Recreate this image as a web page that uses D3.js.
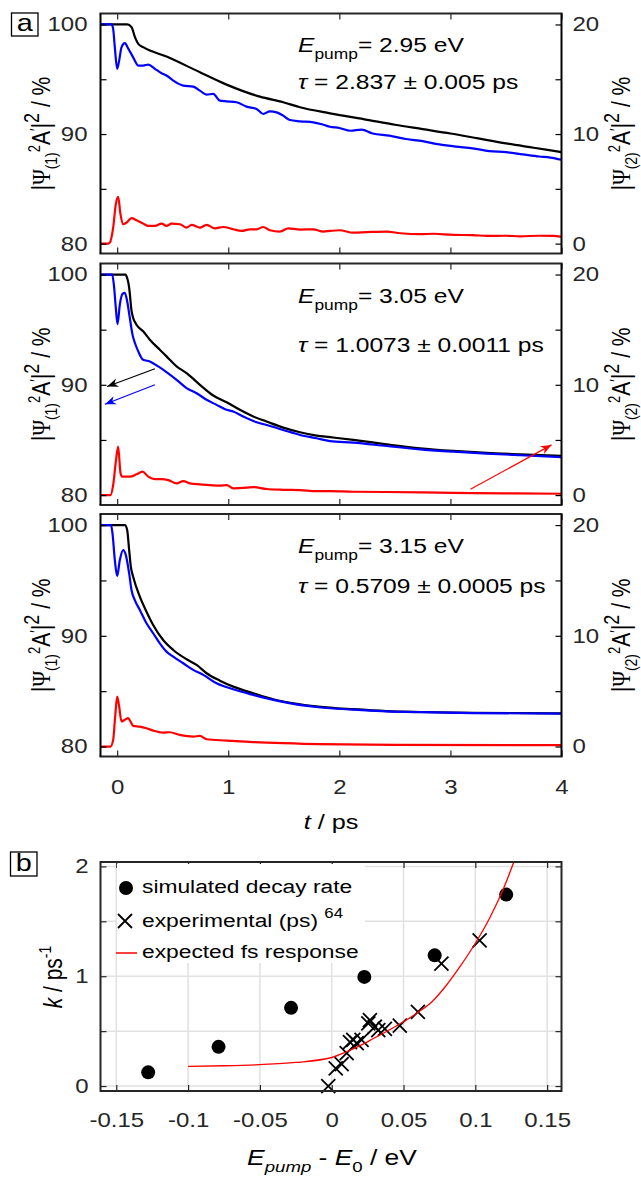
<!DOCTYPE html>
<html>
<head>
<meta charset="utf-8">
<script src="https://cdn.jsdelivr.net/npm/d3@7"></script>
<style>
body { margin: 0; background: #fff; }
svg { display: block; }
text { white-space: pre; }
</style>
</head>
<body>
<div id="chart-area"></div>
<script>

// ---- data ----
// panel a: [t / ps, population / %]; black + blue on left axis, red on right axis
var black295 = [[-0.15,100],[0.09,100],[0.13,99.75],[0.16,98.84],[0.19,98.23],[0.234,97.93],[0.444,97.07],[0.745,95.64],[0.985,94.51],[1.285,93.41],[1.495,92.9],[1.646,92.44],[1.916,91.89],[2.25,91.3],[2.5,90.85],[2.75,90.45],[3.0,90.05],[3.25,89.6],[3.5,89.15],[3.75,88.75],[4.0,88.35]];
var blue295 = [[-0.15,100],[-0.05,100],[-0.036,99.6],[-0.021,97.9],[0.0,95.95],[0.018,96.7],[0.039,97.9],[0.069,98.3],[0.1,97.8],[0.144,97.0],[0.19,96.25],[0.234,96.25],[0.28,96.34],[0.34,95.95],[0.4,95.55],[0.444,95.34],[0.505,94.88],[0.595,94.42],[0.685,94.33],[0.745,93.96],[0.805,93.6],[0.865,93.66],[0.925,93.05],[0.985,92.99],[1.075,92.9],[1.165,92.5],[1.255,92.29],[1.315,91.83],[1.375,92.07],[1.435,91.98],[1.495,91.68],[1.555,91.28],[1.646,91.16],[1.766,91.07],[1.856,90.85],[1.916,90.67],[2.0,90.55],[2.1,90.3],[2.2,90.4],[2.3,90.05],[2.45,89.85],[2.6,89.55],[2.75,89.35],[2.9,89.05],[3.05,88.85],[3.2,88.7],[3.35,88.45],[3.5,88.35],[3.65,88.15],[3.8,87.95],[3.9,87.85],[4.0,87.65]];
var red295 = [[-0.15,0],[-0.08,0],[-0.066,0.09],[-0.036,1.46],[-0.012,3.6],[0.009,4.27],[0.03,2.68],[0.054,1.77],[0.084,1.92],[0.13,2.32],[0.174,2.13],[0.234,1.83],[0.28,1.62],[0.34,1.62],[0.4,1.83],[0.444,1.62],[0.49,1.83],[0.565,1.77],[0.625,1.46],[0.67,1.71],[0.745,1.46],[0.805,1.71],[0.88,1.4],[0.955,1.52],[1.045,1.31],[1.12,1.16],[1.195,1.31],[1.255,1.31],[1.315,1.52],[1.375,1.22],[1.465,1.1],[1.54,1.4],[1.646,1.28],[1.766,1.31],[1.856,1.1],[1.916,1.16],[2.0,1.22],[2.126,1.0],[2.25,1.05],[2.426,1.1],[2.55,0.95],[2.727,0.86],[2.85,0.9],[3.027,0.8],[3.2,0.78],[3.327,0.7],[3.5,0.72],[3.627,0.67],[3.8,0.72],[3.927,0.7],[4.0,0.62]];

var black305 = [[-0.15,100],[0.075,100],[0.084,99.85],[0.108,98.8],[0.13,96.67],[0.144,96.06],[0.174,95.45],[0.234,94.85],[0.294,94.09],[0.384,93.18],[0.444,92.58],[0.535,91.67],[0.625,91.06],[0.745,90.0],[0.865,89.03],[0.985,88.42],[1.105,87.73],[1.225,87.12],[1.345,86.67],[1.495,86.12],[1.646,85.7],[1.796,85.39],[1.916,85.25],[2.126,85.0],[2.426,84.6],[2.727,84.24],[3.027,84.0],[3.327,83.82],[3.627,83.7],[4.0,83.55]];
var blue305 = [[-0.15,100],[-0.045,100],[-0.03,99.1],[-0.012,96.97],[0.003,95.5],[0.024,97.27],[0.048,98.24],[0.069,98.33],[0.09,97.58],[0.114,96.06],[0.138,94.55],[0.16,93.79],[0.19,93.03],[0.234,92.27],[0.294,92.12],[0.37,91.67],[0.444,91.15],[0.535,90.45],[0.625,89.7],[0.715,89.24],[0.805,88.64],[0.895,88.18],[0.985,87.73],[1.045,87.58],[1.135,87.12],[1.255,86.6],[1.345,86.36],[1.495,85.9],[1.646,85.45],[1.796,85.15],[1.916,84.9],[2.126,84.76],[2.426,84.45],[2.727,84.15],[3.027,83.94],[3.327,83.76],[3.627,83.61],[4.0,83.45]];
var red305 = [[-0.15,0],[-0.06,0],[-0.036,0.91],[-0.012,3.03],[0.009,4.39],[0.03,2.0],[0.045,1.67],[0.114,1.67],[0.174,1.88],[0.228,2.12],[0.28,1.67],[0.34,1.45],[0.4,1.45],[0.46,1.36],[0.535,1.06],[0.595,1.27],[0.655,1.06],[0.745,0.97],[0.835,0.91],[0.925,0.85],[0.985,0.91],[1.045,0.61],[1.165,0.67],[1.225,0.73],[1.345,0.55],[1.495,0.48],[1.646,0.45],[1.796,0.36],[1.916,0.36],[2.126,0.3],[2.426,0.28],[3.027,0.2],[3.5,0.16],[4.0,0.12]];

var black315 = [[-0.15,100],[0.07,100],[0.09,99.55],[0.108,97.74],[0.123,96.24],[0.144,95.34],[0.204,93.53],[0.264,92.18],[0.324,90.98],[0.414,89.62],[0.505,88.72],[0.625,87.88],[0.715,87.37],[0.805,86.62],[0.925,85.95],[1.045,85.41],[1.225,84.81],[1.405,84.27],[1.586,83.91],[1.811,83.61],[2.126,83.37],[2.426,83.2],[2.727,83.12],[3.2,83.05],[4.0,83.0]];
var blue315 = [[-0.15,100],[-0.055,100],[-0.042,99.25],[-0.021,96.84],[0.0,95.4],[0.024,96.84],[0.054,97.74],[0.078,97.29],[0.108,95.64],[0.129,94.14],[0.159,93.23],[0.204,92.33],[0.264,91.13],[0.324,90.23],[0.384,89.32],[0.444,88.57],[0.505,88.12],[0.595,87.52],[0.685,86.92],[0.775,86.47],[0.895,85.71],[1.045,85.17],[1.225,84.66],[1.405,84.21],[1.586,83.85],[1.811,83.55],[2.126,83.33],[2.426,83.18],[2.727,83.1],[3.2,83.02],[4.0,82.98]];
var red315 = [[-0.15,0],[-0.06,0],[-0.036,0.6],[-0.018,2.71],[0.0,4.51],[0.018,3.61],[0.039,2.26],[0.069,2.41],[0.099,2.56],[0.12,2.26],[0.144,1.87],[0.204,1.8],[0.264,1.65],[0.324,1.44],[0.414,1.26],[0.474,1.29],[0.565,1.05],[0.685,0.9],[0.745,0.96],[0.805,0.66],[0.985,0.54],[1.195,0.42],[1.495,0.3],[1.811,0.21],[2.5,0.15],[4.0,0.12]];

var epumpLabels = ["2.95", "3.05", "3.15"];
var tauLabels = ["2.837", "1.0073", "0.5709"];
var tauErrLabels = ["0.005", "0.0011", "0.0005"];

// arrows in the middle panel: [from, to] in data units
var arrowBlack = [[0.34, 91.45], [-0.09, 89.85]];
var arrowBlue = [[0.34, 90.0], [-0.11, 88.24]];
var arrowRed = [[3.18, 0.52], [3.91, 4.55]];   // right axis

var tTicks = [0, 1, 2, 3, 4];
var leftTicks = [80, 85, 90, 95, 100];
var rightTicks = [0, 5, 10, 15, 20];

// panel b: decay rate vs excess energy
var simX = [-0.1278, -0.0788, -0.0283, 0.0227, 0.0717, 0.1215];
var simK = [0.125, 0.357, 0.712, 0.994, 1.19, 1.743];
var expX = [-0.0024, 0.0028, 0.0069, 0.0104, 0.0127, 0.015, 0.0174, 0.0208, 0.0255, 0.0266, 0.030, 0.0324, 0.037, 0.0474, 0.060, 0.0764, 0.103];
var expK = [0.0, 0.16, 0.20, 0.30, 0.40, 0.42, 0.39, 0.42, 0.57, 0.60, 0.54, 0.51, 0.52, 0.55, 0.675, 1.115, 1.327];
var fitX = [-0.1, -0.075, -0.05, -0.025, 0, 0.01, 0.02, 0.03, 0.04, 0.05, 0.06, 0.07, 0.08, 0.09, 0.1, 0.11, 0.12, 0.1268];
var fitK = [0.18, 0.185, 0.195, 0.215, 0.26, 0.31, 0.37, 0.44, 0.51, 0.585, 0.67, 0.77, 0.92, 1.10, 1.30, 1.53, 1.81, 2.04];
var bXTicks = [-0.15, -0.1, -0.05, 0, 0.05, 0.1, 0.15];
var bXTickLabels = ["-0.15", "-0.1", "-0.05", "0", "0.05", "0.1", "0.15"];
var bYTicks = [0, 0.5, 1, 1.5, 2];
var legendLabels = ["simulated decay rate", "experimental (ps)", "expected fs response"];

// ---- drawing ----
var width = 641, height = 1178;
var S = 1.2;   // text in the original is wider than plain Helvetica
var font = "'Liberation Sans', Arial, Helvetica, sans-serif";
var serif = "'Liberation Serif', 'DejaVu Serif', serif";
var axisGrey = "#262626";
var tickFont = 20;

var svg = d3.select("#chart-area").append("svg")
	.attr("width", width)
	.attr("height", height);

function addText(g, x, y, size, anchor, rot) {
	var t = g.append("text")
		.attr("transform", "translate(" + x + "," + y + ") scale(" + S + ",1)" + (rot ? " rotate(" + rot + ")" : ""))
		.attr("font-family", font)
		.attr("font-size", size)
		.attr("fill", "#000");
	if (anchor) t.attr("text-anchor", anchor);
	return t;
}

// widen the tick labels the same way, keeping their position
function styleAxis(ag, col) {
	ag.attr("font-family", font).attr("font-size", tickFont).attr("color", col);
	ag.select(".domain").remove();
	ag.selectAll(".tick line").attr("stroke-width", 1.2);
	ag.selectAll("text").attr("fill", axisGrey).each(function() {
		var t = d3.select(this), x = +t.attr("x") || 0;
		t.attr("x", x / S).attr("transform", "scale(" + S + ",1)");
	});
}

function boxLabel(x, y, w, h, letter) {
	svg.append("rect").attr("x", x).attr("y", y).attr("width", w).attr("height", h)
		.attr("fill", "#fff").attr("stroke", "#000").attr("stroke-width", 1.3);
	addText(svg, x + w / 2, y + h - 5, 24, "middle").text(letter);
}

// arrow heads
var defs = svg.append("defs");
[["k", "#000"], ["b", "#0000ff"], ["r", "#ff0000"]].forEach(function(m) {
	defs.append("marker")
		.attr("id", "head-" + m[0])
		.attr("viewBox", "0 -5 10 10")
		.attr("refX", 10).attr("refY", 0)
		.attr("markerUnits", "userSpaceOnUse")
		.attr("markerWidth", 11).attr("markerHeight", 11)
		.attr("orient", "auto")
		.append("path")
		.attr("d", "M0,-4L10,0L0,4L3,0Z")
		.attr("fill", m[1]);
});

// ===== panel a =====
var tScale = d3.scaleLinear().domain([-0.15, 4]).range([100.5, 561.5]);
var panelsA = [
	{top: 13.5, bottom: 253.5, black: black295, blue: blue295, red: red295, eBase: 52, tauBase: 89},
	{top: 263.5, bottom: 505, black: black305, blue: blue305, red: red305, eBase: 303, tauBase: 352},
	{top: 514, bottom: 756.5, black: black315, blue: blue315, red: red315, eBase: 553, tauBase: 593}
];

panelsA.forEach(function(p, i) {
	var yL = d3.scaleLinear().domain([79.1, 101]).range([p.bottom, p.top]);
	var yR = d3.scaleLinear().domain([-0.9, 21]).range([p.bottom, p.top]);
	var g = svg.append("g");

	var lineL = d3.line().x(function(d) { return tScale(d[0]); }).y(function(d) { return yL(d[1]); }).curve(d3.curveMonotoneX);
	var lineR = d3.line().x(function(d) { return tScale(d[0]); }).y(function(d) { return yR(d[1]); }).curve(d3.curveMonotoneX);

	g.append("path").attr("d", lineL(p.black)).attr("fill", "none").attr("stroke", "#000").attr("stroke-width", 2.2);
	g.append("path").attr("d", lineL(p.blue)).attr("fill", "none").attr("stroke", "#0000ff").attr("stroke-width", 2.2);
	g.append("path").attr("d", lineR(p.red)).attr("fill", "none").attr("stroke", "#ff0000").attr("stroke-width", 2.2);

	// ticks
	var left = g.append("g").attr("transform", "translate(" + tScale.range()[0] + ",0)")
		.call(d3.axisLeft(yL).tickValues(leftTicks).tickSizeInner(-6).tickSizeOuter(0).tickPadding(13)
			.tickFormat(function(d) { return d % 10 === 0 ? d : ""; }));
	styleAxis(left, "#000");
	var right = g.append("g").attr("transform", "translate(" + tScale.range()[1] + ",0)")
		.call(d3.axisRight(yR).tickValues(rightTicks).tickSizeInner(-6).tickSizeOuter(0).tickPadding(11)
			.tickFormat(function(d) { return d % 10 === 0 ? d : ""; }));
	styleAxis(right, "#000");
	var bottom = g.append("g").attr("transform", "translate(0," + p.bottom + ")")
		.call(d3.axisBottom(tScale).tickValues(tTicks).tickSizeInner(-6).tickSizeOuter(0).tickPadding(23)
			.tickFormat(function(d) { return i === 2 ? d : ""; }));
	styleAxis(bottom, axisGrey);
	var topAx = g.append("g").attr("transform", "translate(0," + p.top + ")")
		.call(d3.axisTop(tScale).tickValues(tTicks).tickSizeInner(-6).tickSizeOuter(0).tickFormat(""));
	styleAxis(topAx, axisGrey);

	// frame
	var x0 = tScale.range()[0], x1 = tScale.range()[1];
	g.append("line").attr("x1", x0 - 1).attr("x2", x1 + 1).attr("y1", p.top).attr("y2", p.top).attr("stroke", axisGrey).attr("stroke-width", 2);
	g.append("line").attr("x1", x0 - 1).attr("x2", x1 + 1).attr("y1", p.bottom).attr("y2", p.bottom).attr("stroke", axisGrey).attr("stroke-width", 2);
	g.append("line").attr("x1", x0).attr("x2", x0).attr("y1", p.top).attr("y2", p.bottom).attr("stroke", "#000").attr("stroke-width", 2);
	g.append("line").attr("x1", x1).attr("x2", x1).attr("y1", p.top).attr("y2", p.bottom).attr("stroke", "#000").attr("stroke-width", 2);

	// annotations
	var e = addText(g, 298, p.eBase, 20.5);
	e.append("tspan").attr("font-style", "italic").text("E");
	e.append("tspan").attr("font-size", 14.5).attr("dy", 7).text("pump");
	e.append("tspan").attr("dy", -7).text("= " + epumpLabels[i] + " eV");
	var tau = addText(g, 298, p.tauBase, 20.5);
	tau.append("tspan").attr("font-style", "italic").text("\u03c4");
	tau.append("tspan").text(" = " + tauLabels[i] + " \u00b1 " + tauErrLabels[i] + " ps");

	// axis titles
	var mid = (p.top + p.bottom) / 2;
	[[50, "1"], [630, "2"]].forEach(function(a) {
		var t = addText(g, a[0], mid, 21, "middle", -90);
		t.append("tspan").text("|");
		t.append("tspan").attr("font-family", serif).text("\u03a8");
		t.append("tspan").attr("font-size", 14).attr("dy", 6).text("(" + a[1] + ")");
		t.append("tspan").attr("font-size", 13).attr("dy", -14).text("2");
		t.append("tspan").attr("dy", 8).text("A");
		t.append("tspan").attr("font-size", 14).attr("dy", -7).text("\u2032");
		t.append("tspan").attr("dy", 7).text("|");
		t.append("tspan").attr("font-size", 18).attr("dy", -9).text("2");
		t.append("tspan").attr("dy", 9).text(" / %");
	});

	if (i === 1) {
		var arrows = [[arrowBlack, yL, "#000", "k"], [arrowBlue, yL, "#0000ff", "b"], [arrowRed, yR, "#ff0000", "r"]];
		arrows.forEach(function(a) {
			g.append("line")
				.attr("x1", tScale(a[0][0][0])).attr("y1", a[1](a[0][0][1]))
				.attr("x2", tScale(a[0][1][0])).attr("y2", a[1](a[0][1][1]))
				.attr("stroke", a[2]).attr("stroke-width", 1.2)
				.attr("marker-end", "url(#head-" + a[3] + ")");
		});
	}
});

var tl = addText(svg, 331, 829, 21, "middle");
tl.append("tspan").attr("font-style", "italic").text("t");
tl.append("tspan").text(" / ps");

boxLabel(11.5, 13, 26.5, 23, "a");

// ===== panel b =====
var xB = d3.scaleLinear().domain([-0.161, 0.16]).range([100.5, 561.5]);
var yB = d3.scaleLinear().domain([-0.045, 2.04]).range([1091, 862]);
var gb = svg.append("g");

// grid
gb.selectAll(".vgrid").data(bXTicks).enter().append("line")
	.attr("x1", function(d) { return xB(d); }).attr("x2", function(d) { return xB(d); })
	.attr("y1", yB.range()[1]).attr("y2", yB.range()[0])
	.attr("stroke", "#e1e1e1").attr("stroke-width", 1.5);
gb.selectAll(".hgrid").data(bYTicks).enter().append("line")
	.attr("x1", xB.range()[0]).attr("x2", xB.range()[1])
	.attr("y1", function(d) { return yB(d); }).attr("y2", function(d) { return yB(d); })
	.attr("stroke", "#e1e1e1").attr("stroke-width", 1.5);

// simulated points
gb.selectAll(".sim").data(simX).enter().append("circle")
	.attr("cx", function(d) { return xB(d); })
	.attr("cy", function(d, i) { return yB(simK[i]); })
	.attr("r", 7).attr("fill", "#000");

// experimental crosses
gb.selectAll(".exp").data(expX).enter().append("path")
	.attr("transform", function(d, i) { return "translate(" + xB(d) + "," + yB(expK[i]) + ")"; })
	.attr("d", "M-7,-7L7,7M-7,7L7,-7")
	.attr("stroke", "#000").attr("stroke-width", 1.8).attr("fill", "none");

// expected response
var fitLine = d3.line()
	.x(function(d) { return xB(d); })
	.y(function(d, i) { return yB(fitK[i]); })
	.curve(d3.curveMonotoneX);
gb.append("path").attr("d", fitLine(fitX)).attr("fill", "none").attr("stroke", "#ff0000").attr("stroke-width", 1.3);

// axes
var bBottom = gb.append("g").attr("transform", "translate(0," + yB.range()[0] + ")")
	.call(d3.axisBottom(xB).tickValues(bXTicks).tickSizeInner(-6).tickSizeOuter(0).tickPadding(22)
		.tickFormat(function(d, i) { return bXTickLabels[i]; }));
styleAxis(bBottom, axisGrey);
var bTop = gb.append("g").attr("transform", "translate(0," + yB.range()[1] + ")")
	.call(d3.axisTop(xB).tickValues(bXTicks).tickSizeInner(-6).tickSizeOuter(0).tickFormat(""));
styleAxis(bTop, axisGrey);
var bLeft = gb.append("g").attr("transform", "translate(" + xB.range()[0] + ",0)")
	.call(d3.axisLeft(yB).tickValues(bYTicks).tickSizeInner(-6).tickSizeOuter(0).tickPadding(12)
		.tickFormat(function(d) { return d % 1 === 0 ? d : ""; }));
styleAxis(bLeft, axisGrey);
var bRight = gb.append("g").attr("transform", "translate(" + xB.range()[1] + ",0)")
	.call(d3.axisRight(yB).tickValues(bYTicks).tickSizeInner(-6).tickSizeOuter(0).tickFormat(""));
styleAxis(bRight, axisGrey);

gb.append("rect")
	.attr("x", xB.range()[0]).attr("y", yB.range()[1])
	.attr("width", xB.range()[1] - xB.range()[0]).attr("height", yB.range()[0] - yB.range()[1])
	.attr("fill", "none").attr("stroke", axisGrey).attr("stroke-width", 2);

// legend
var lg = gb.append("g");
lg.append("rect").attr("x", 117).attr("y", 864).attr("width", 248).attr("height", 99).attr("fill", "#fff");
lg.append("circle").attr("cx", 126).attr("cy", 888).attr("r", 7).attr("fill", "#000");
lg.append("path").attr("transform", "translate(125,921)").attr("d", "M-7,-7L7,7M-7,7L7,-7")
	.attr("stroke", "#000").attr("stroke-width", 1.8);
lg.append("line").attr("x1", 116).attr("x2", 137).attr("y1", 953).attr("y2", 953)
	.attr("stroke", "#ff0000").attr("stroke-width", 1.5);
addText(lg, 142, 893, 19).text(legendLabels[0]);
var l2 = addText(lg, 142, 927, 19);
l2.append("tspan").text(legendLabels[1] + " ");
l2.append("tspan").attr("font-size", 14).attr("dy", -9).text("64");
addText(lg, 142, 958, 19).text(legendLabels[2]);

// axis titles b
var xl = addText(svg, 332, 1165, 22, "middle");
xl.append("tspan").attr("font-style", "italic").text("E");
xl.append("tspan").attr("font-style", "italic").attr("font-size", 15.5).attr("dy", 7).text("pump");
xl.append("tspan").attr("dy", -7).text(" - ");
xl.append("tspan").attr("font-style", "italic").text("E");
xl.append("tspan").attr("font-size", 15.5).attr("dy", 7).text("0");
xl.append("tspan").attr("dy", -7).text(" / eV");

var yl = addText(svg, 62, 977, 21, "middle", -90);
yl.append("tspan").attr("font-style", "italic").text("k");
yl.append("tspan").text(" / ps");
yl.append("tspan").attr("font-size", 14).attr("dy", -9).text("-1");

boxLabel(10.5, 852, 26.5, 24, "b");

</script>
</body>
</html>
